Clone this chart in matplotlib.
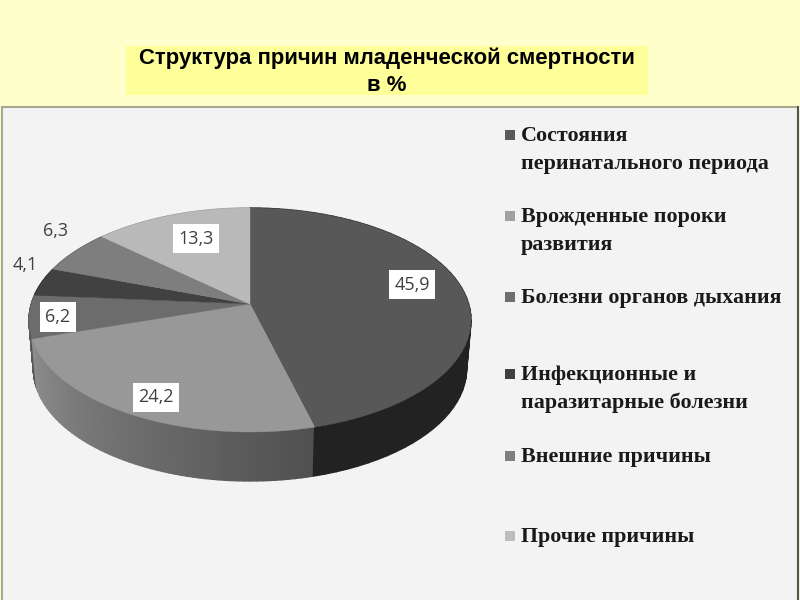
import matplotlib

matplotlib.use("Agg")

import matplotlib.pyplot as plt
import numpy as np
from matplotlib.patches import Rectangle

categories = [
    "Состояния\nперинатального периода",
    "Врожденные пороки\nразвития",
    "Болезни органов дыхания",
    "Инфекционные и\nпаразитарные болезни",
    "Внешние причины",
    "Прочие причины",
]
values = [45.9, 24.2, 6.2, 4.1, 6.3, 13.3]
value_labels = ["45,9", "24,2", "6,2", "4,1", "6,3", "13,3"]

top_colors = ["#585858", "#989898", "#6c6c6c", "#414141", "#7e7e7e", "#b9b9b9"]
legend_colors = ["#5a5a5a", "#a0a0a0", "#6e6e6e", "#404040", "#7f7f7f", "#bdbdbd"]
# side colour at the start and at the end of each slice's arc
side_colors = [
    ("#222222", "#222222"),
    ("#505050", "#8c8c8c"),
    ("#5a5a5a", "#5a5a5a"),
    ("#333333", "#333333"),
    ("#666666", "#666666"),
    ("#999999", "#999999"),
]

label_pos = [(412, 284.5), (156, 397.5), (58, 317), (25, 265), (56, 231), (196, 238.5)]
label_boxed = [True, True, True, False, False, True]
legend_y = [135, 216, 297, 374, 456, 536]

# pie apex and tilt on the canvas
APEX_X, APEX_Y = 250, 304
SCALE_X, SCALE_Y, PERSP = 218.7, 109.7, 0.1428
DEPTH = 49
BOTTOM_SHRINK = 0.98


def project(theta):
    # clockwise from 12 o'clock on a tilted disc
    u, v = np.sin(theta), np.cos(theta)
    w = 1 + PERSP * v
    return APEX_X + SCALE_X * u / w, APEX_Y - SCALE_Y * v / w


def mix(c1, c2, t):
    a = np.array(matplotlib.colors.to_rgb(c1))
    b = np.array(matplotlib.colors.to_rgb(c2))
    return tuple(a + (b - a) * t)


fig = plt.figure(figsize=(8, 6), dpi=100, facecolor="#ffffcc")
ax = fig.add_axes([0, 0, 1, 1])
ax.set_xlim(0, 800)
ax.set_ylim(600, 0)
ax.axis("off")

ax.add_patch(Rectangle((1.5, 107), 796, 495, facecolor="#f3f3f3", edgecolor="#a8a890", linewidth=1.5))
ax.plot([798, 798], [107, 600], color="#555555", linewidth=1.5)

ax.add_patch(Rectangle((126, 46), 522, 49, facecolor="#ffff99", edgecolor="none"))
ax.text(387, 58.5, "Структура причин младенческой смертности", ha="center", va="center",
        fontsize=15.9, fontweight="bold", family="Liberation Sans", color="black")
ax.text(387, 85.5, "в %", ha="center", va="center",
        fontsize=15.9, fontweight="bold", family="Liberation Sans", color="black")

edges = np.concatenate([[0], np.cumsum(values)]) / sum(values) * 2 * np.pi

# side wall first, back slices before front ones, the top face covers the rest
for i in reversed(range(len(values))):
    steps = np.linspace(edges[i], edges[i + 1], 60)
    for j in range(len(steps) - 1):
        x, y = project(steps[j:j + 2])
        bx = APEX_X + BOTTOM_SHRINK * (x - APEX_X)
        t = j / (len(steps) - 2)
        color = mix(side_colors[i][0], side_colors[i][1], t)
        ax.fill([x[0], x[1], bx[1], bx[0]], [y[0], y[1], y[1] + DEPTH, y[0] + DEPTH],
                color=color, linewidth=1.0)

for i in range(len(values)):
    x, y = project(np.linspace(edges[i], edges[i + 1], 120))
    ax.fill(np.r_[APEX_X, x], np.r_[APEX_Y, y], color=top_colors[i], linewidth=0.3)

for text, (lx, ly), boxed in zip(value_labels, label_pos, label_boxed):
    bbox = dict(facecolor="white", edgecolor="none", pad=4.0) if boxed else None
    ax.text(lx, ly, text, ha="center", va="center", fontsize=13, family="Open Sans",
            color="#404040", bbox=bbox)

for name, color, ly in zip(categories, legend_colors, legend_y):
    ax.add_patch(Rectangle((505, ly - 5), 10, 10, facecolor=color, edgecolor="none"))
    for n, line in enumerate(name.split("\n")):
        ax.text(521, ly + 1 + n * 28, line, ha="left", va="center", fontsize=15.8,
                fontweight="bold", family="Liberation Serif", color="#1a1a1a")

fig.savefig("out.png", dpi=100, facecolor=fig.get_facecolor())
plt.close(fig)
